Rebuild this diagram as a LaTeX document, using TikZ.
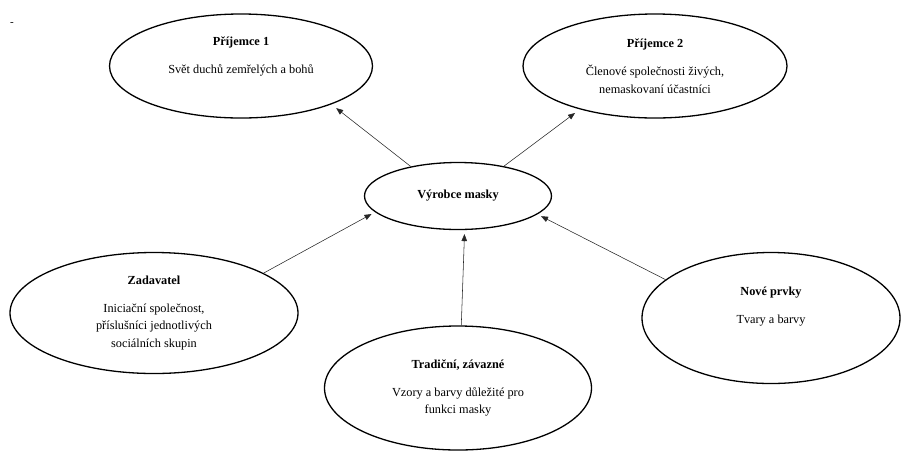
\documentclass[tikz,border=0pt]{standalone}
\usepackage{fontspec}
\setmainfont{Liberation Serif}
\usetikzlibrary{shapes.geometric,arrows.meta}
\begin{document}
\begin{tikzpicture}[x=1pt,y=-1pt,
  oval/.style={draw, ellipse, line width=1.3pt, inner sep=0pt, align=center,
    font=\fontsize{12.3}{17.8}\selectfont},
  conn/.style={line width=0.55pt, draw=black!85, -{Triangle[length=7pt,width=5.5pt]}, shorten >=4pt}
]
\useasboundingbox (0,0) rectangle (902,451);
\node[font=\fontsize{11}{13}\selectfont] (dash) at (12,24) {-};
\node[oval, minimum width=263pt, minimum height=104pt] (p1) at (241,66)
  {\textbf{Příjemce 1}\\[10pt]Svět duchů zemřelých a bohů\\[4pt]};
\node[oval, minimum width=264pt, minimum height=104pt] (p2) at (655,66)
  {\textbf{Příjemce 2}\\[10pt]Členové společnosti živých,\\nemaskovaní účastníci};
\node[oval, minimum width=187pt, minimum height=67pt] (vyr) at (458,196)
  {\textbf{Výrobce masky}};
\node[oval, minimum width=288pt, minimum height=121pt] (zad) at (154,313)
  {\textbf{Zadavatel}\\[10pt]Iniciační společnost,\\příslušníci jednotlivých\\sociálních skupin};
\node[oval, minimum width=267pt, minimum height=124pt] (trad) at (458,388)
  {\textbf{Tradiční, závazné}\\[10pt]Vzory a barvy důležité pro\\funkci masky};
\node[oval, minimum width=258pt, minimum height=131pt] (nov) at (771,318)
  {\textbf{Nové prvky}\\[10pt]Tvary a barvy\\[8pt]};
\draw[conn, shorten >=6pt] (vyr.148) -- (p1.-23);
\draw[conn, shorten >=6pt] (vyr.33) -- (p2.-150);
\draw[conn] (zad.20) -- (vyr.191);
\draw[conn] (trad.87) -- (vyr.-79);
\draw[conn] (nov.160) -- (vyr.-13);
\end{tikzpicture}
\end{document}
